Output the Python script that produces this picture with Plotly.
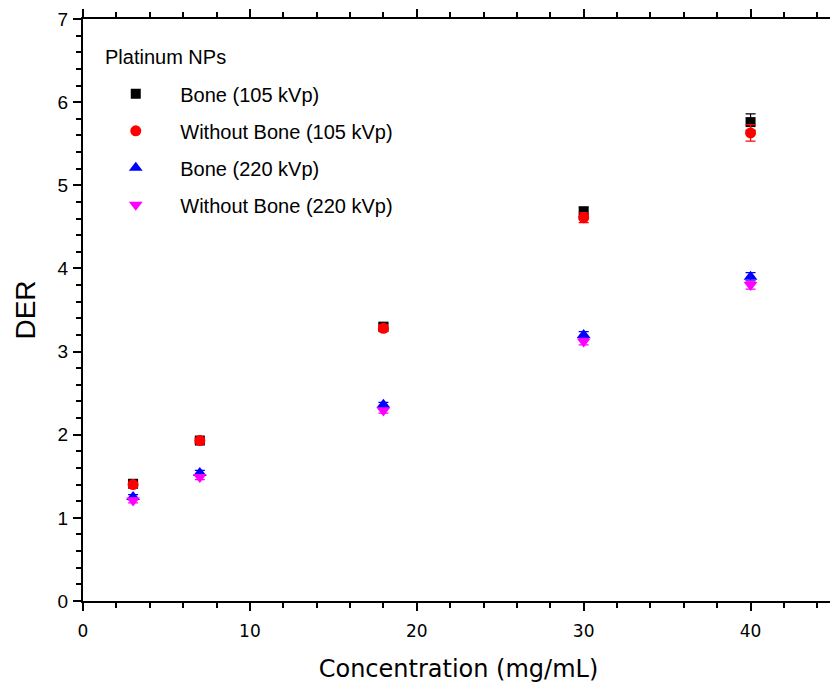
import plotly.graph_objects as go

conc = [3, 7, 18, 30, 40]
bone_105 = [1.41, 1.93, 3.30, 4.68, 5.76]
bone_105_err = [0.03, 0.03, 0.04, 0.06, 0.10]
nobone_105 = [1.40, 1.93, 3.28, 4.61, 5.63]
nobone_105_err = [0.03, 0.03, 0.04, 0.06, 0.10]
bone_220 = [1.25, 1.54, 2.36, 3.20, 3.90]
bone_220_err = [0.03, 0.03, 0.03, 0.04, 0.05]
nobone_220 = [1.21, 1.49, 2.29, 3.12, 3.80]
nobone_220_err = [0.03, 0.03, 0.03, 0.04, 0.05]
legend_title = "Platinum NPs"

series = [
    ("Bone (105 kVp)", bone_105, bone_105_err, "black", "square", 10),
    ("Without Bone (105 kVp)", nobone_105, nobone_105_err, "red", "circle", 11),
    ("Bone (220 kVp)", bone_220, bone_220_err, "blue", "triangle-up", 12),
    ("Without Bone (220 kVp)", nobone_220, nobone_220_err, "magenta", "triangle-down", 12),
]

fig = go.Figure()
for i, (name, vals, errs, col, sym, sz) in enumerate(series):
    fig.add_trace(go.Scatter(
        x=conc, y=vals, mode="markers", name=name, legendgroup=str(i),
        marker=dict(color=col, symbol=sym, size=sz, line=dict(width=0)),
        error_y=dict(type="data", array=errs, visible=True, color=col,
                     thickness=1.2, width=5),
    ))

axis_common = dict(showline=True, linecolor="black", linewidth=2, mirror="allticks",
                   ticks="outside", tickcolor="black", tickwidth=2, ticklen=8,
                   showgrid=False, zeroline=False, automargin=False)

fig.update_xaxes(range=[0, 45], tick0=0, dtick=10,
                 minor=dict(ticks="outside", dtick=2, ticklen=5, tickwidth=2, tickcolor="black"),
                 tickfont=dict(family="DejaVu Sans", size=17, color="black"),
                 ticklabelstandoff=6,
                 title=dict(text="Concentration (mg/mL)",
                            font=dict(family="DejaVu Sans", size=24, color="black"),
                            standoff=20),
                 **axis_common)
fig.update_yaxes(range=[0, 7], tick0=0, dtick=1,
                 minor=dict(ticks="outside", dtick=0.2, ticklen=5, tickwidth=2, tickcolor="black"),
                 tickfont=dict(family="Liberation Sans", size=19, color="black"),
                 ticklabelstandoff=1,
                 title=dict(text="DER",
                            font=dict(family="Liberation Sans", size=28, color="black"),
                            standoff=14),
                 **axis_common)

fig.add_annotation(text=legend_title, xref="paper", yref="paper", x=0.026, y=0.935,
                   xanchor="left", yanchor="middle", showarrow=False,
                   font=dict(family="Liberation Sans", size=20, color="black"))

fig.update_layout(
    width=830, height=681,
    margin=dict(l=75, r=4, t=11, b=88),
    plot_bgcolor="white", paper_bgcolor="white",
    legend=dict(x=0.011, y=0.905, xanchor="left", yanchor="top",
                font=dict(family="Liberation Sans", size=20, color="black"),
                bgcolor="rgba(0,0,0,0)", traceorder="grouped", tracegroupgap=8,
                itemwidth=79),
)

fig.write_html("out.html")
